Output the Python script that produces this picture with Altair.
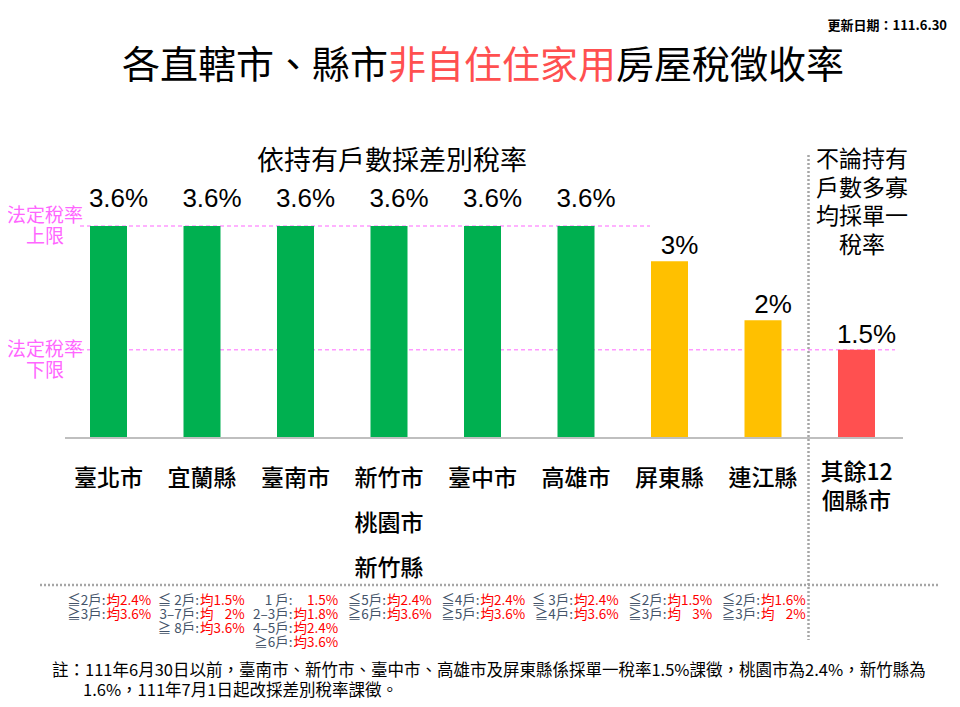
import altair as alt
import pandas as pd

# ---------------- data ----------------
categories = ["臺北市", "宜蘭縣", "臺南市", "新竹市\n桃園市\n新竹縣", "臺中市",
              "高雄市", "屏東縣", "連江縣", "其餘12\n個縣市"]
rates = [3.6, 3.6, 3.6, 3.6, 3.6, 3.6, 3, 2, 1.5]
tiers = ["差別稅率上限", "差別稅率上限", "差別稅率上限", "差別稅率上限", "差別稅率上限",
         "差別稅率上限", "差別稅率較低", "差別稅率較低", "單一稅率"]

note_cats = categories[:8]
note_labels = ["≦2戶:\n≧3戶:",
               "≦ 2戶:\n3–7戶:\n≧ 8戶:",
               "1 戶:\n2–3戶:\n4–5戶:\n≧6戶:",
               "≦5戶:\n≧6戶:",
               "≦4戶:\n≧5戶:",
               "≦ 3戶:\n≧4戶:",
               "≦2戶:\n≧3戶:",
               "≦2戶:\n≧3戶:"]
note_values = ["均2.4%\n均3.6%",
               "均1.5%\n均\u2007\u20082%\n均3.6%",
               "\u200b\u30001.5%\n均1.8%\n均2.4%\n均3.6%",
               "均2.4%\n均3.6%",
               "均2.4%\n均3.6%",
               "均2.4%\n均3.6%",
               "均1.5%\n均\u2007\u20083%",
               "均1.6%\n均\u2007\u20082%"]

limit_values = [3.6, 1.5]
limit_labels = ["法定稅率\n上限", "法定稅率\n下限"]

title_parts = ["各直轄市、縣市", "非自住住家用", "房屋稅徵收率"]
subtitle = "依持有戶數採差別稅率"
right_header = "不論持有\n戶數多寡\n均採單一\n稅率"
update_text = "更新日期：111.6.30"
footnote_1 = "註：111年6月30日以前，臺南市、新竹市、臺中市、高雄市及屏東縣係採單一稅率1.5%課徵，桃園市為2.4%，新竹縣為"
footnote_2 = "1.6%，111年7月1日起改採差別稅率課徵。"

# ---------------- frames ----------------
bars_df = pd.DataFrame({
    "cat": categories,
    "rate": rates,
    "tier": tiers,
    "label": [f"{r:g}%" for r in rates],
})
notes_df = pd.DataFrame({"cat": note_cats, "lab": note_labels, "val": note_values})
lim_df = pd.DataFrame({"rate": limit_values, "lab": limit_labels})
zero_df = pd.DataFrame({"rate": [0.0]})
one_df = pd.DataFrame({"k": [0]})

CJK = "Noto Sans CJK TC"
NUM = "Liberation Sans"

xscale = alt.Scale(domain=categories, range=[53.75, 895.25], paddingInner=0, paddingOuter=0)
yscale = alt.Scale(domain=[0, 3.6], range=[430, 218], nice=False, zero=False)
X = alt.X("cat:N", scale=xscale, axis=None)
Y = alt.Y("rate:Q", scale=yscale, axis=None)

bars = alt.Chart(bars_df).mark_bar(width=37).encode(
    x=X, y=Y,
    color=alt.Color("tier:N", legend=None,
                    scale=alt.Scale(domain=["差別稅率上限", "差別稅率較低", "單一稅率"],
                                    range=["#00b050", "#ffc000", "#ff5050"])),
)

val_hi = alt.Chart(bars_df).transform_filter(alt.datum.rate >= 3.6).mark_text(
    font=NUM, fontSize=26, color="#000000", baseline="alphabetic", dx=10, dy=-19
).encode(x=X, y=Y, text="label:N")
val_lo = alt.Chart(bars_df).transform_filter(alt.datum.rate < 3.6).mark_text(
    font=NUM, fontSize=26, color="#000000", baseline="alphabetic", dx=10, dy=-7
).encode(x=X, y=Y, text="label:N")

xlab_main = alt.Chart(bars_df).transform_filter(alt.datum.tier != "單一稅率").mark_text(
    font=CJK, fontSize=23, fontWeight=500, color="#000000", baseline="top",
    lineBreak="\n", lineHeight=45
).encode(x=X, y=alt.value(460), text="cat:N")
xlab_other = alt.Chart(bars_df).transform_filter(alt.datum.tier == "單一稅率").mark_text(
    font=CJK, fontSize=23, fontWeight=500, color="#000000", baseline="top",
    lineBreak="\n", lineHeight=29
).encode(x=X, y=alt.value(454), text="cat:N")

note_lab = alt.Chart(notes_df).mark_text(
    font=CJK, fontSize=13.5, color="#44546a", align="right", baseline="top",
    lineBreak="\n", lineHeight=14, dx=-3
).encode(x=X, y=alt.value(586), text="lab:N")
note_val = alt.Chart(notes_df).mark_text(
    font=CJK, fontSize=13.5, color="#ff0000", align="left", baseline="top",
    lineBreak="\n", lineHeight=14, dx=-2
).encode(x=X, y=alt.value(586), text="val:N")

baseline = alt.Chart(zero_df).mark_rule(color="#bfbfbf", strokeWidth=2).encode(
    x=alt.value(57), x2=alt.value(895), y=Y)

upper = alt.Chart(lim_df).transform_filter(alt.datum.rate >= 3.6).mark_rule(
    color="#ff99ff", strokeWidth=1.5, strokeDash=[4, 3]).encode(
    x=alt.value(72), x2=alt.value(642), y=Y)
lower = alt.Chart(lim_df).transform_filter(alt.datum.rate < 3.6).mark_rule(
    color="#ff99ff", strokeWidth=1.5, strokeDash=[4, 3]).encode(
    x=alt.value(72), x2=alt.value(887), y=Y)

upper_lab = alt.Chart(lim_df).transform_filter(alt.datum.rate >= 3.6).mark_text(
    font=CJK, fontSize=19, color="#ff66ff", baseline="middle", lineBreak="\n", lineHeight=21, dy=-10
).encode(x=alt.value(37), y=Y, text="lab:N")
lower_lab = alt.Chart(lim_df).transform_filter(alt.datum.rate < 3.6).mark_text(
    font=CJK, fontSize=19, color="#ff66ff", baseline="middle", lineBreak="\n", lineHeight=21, dy=0
).encode(x=alt.value(37), y=Y, text="lab:N")

vdiv = alt.Chart(one_df).mark_rule(color="#a6a6a6", strokeWidth=2.5, strokeDash=[2, 2]).encode(
    x=alt.value(800.5), y=alt.value(147), y2=alt.value(632))
hdiv = alt.Chart(one_df).mark_rule(color="#a6a6a6", strokeWidth=2.5, strokeDash=[2, 2]).encode(
    x=alt.value(32), x2=alt.value(932), y=alt.value(577))

def txt(s, x, y, **kw):
    return alt.Chart(one_df).mark_text(font=CJK, text=s, **kw).encode(
        x=alt.value(x), y=alt.value(y))

t1 = txt(title_parts[0], 114, 59, fontSize=38, align="left", baseline="middle", color="#000000")
t2 = txt(title_parts[1], 380, 59, fontSize=38, align="left", baseline="middle", color="#ff5050")
t3 = txt(title_parts[2], 608, 59, fontSize=38, align="left", baseline="middle", color="#000000")
sub = txt(subtitle, 384, 154, fontSize=27, align="center", baseline="middle", color="#000000")
rh = txt(right_header.split("\n"), 854, 141, fontSize=23, align="center", baseline="top",
         lineHeight=28.5, color="#000000")
upd = txt(update_text, 939, 18, fontSize=13, fontWeight="bold", align="right",
          baseline="middle", color="#000000")
fn1 = txt(footnote_1, 44, 663, fontSize=16.5, align="left", baseline="middle", color="#000000")
fn2 = txt(footnote_2, 75, 682.5, fontSize=16.5, align="left", baseline="middle", color="#000000")

chart = alt.layer(
    hdiv, vdiv, upper, lower, bars, baseline, val_hi, val_lo, xlab_main, xlab_other,
    note_lab, note_val, upper_lab, lower_lab, t1, t2, t3, sub, rh, upd, fn1, fn2
).properties(
    width=944, height=691, padding=0, autosize="none"
).configure_view(stroke=None)

chart.save("out.html", embed_options={"renderer": "svg", "actions": False})
